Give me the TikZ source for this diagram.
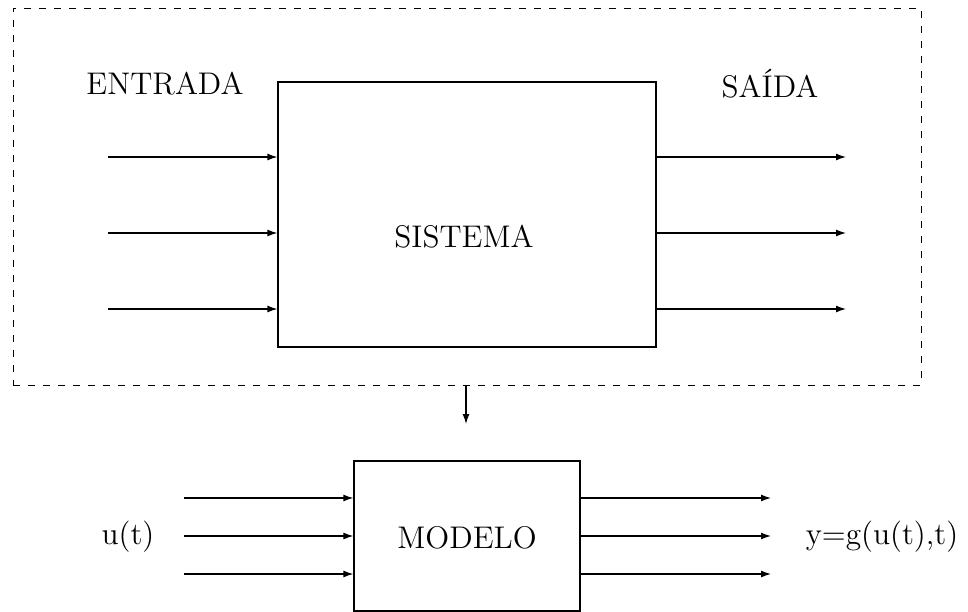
\documentclass[tikz,border=0pt]{standalone}
\usetikzlibrary{arrows.meta,fit}
\begin{document}
\begin{tikzpicture}[x=0.46pt,y=-0.46pt,
  every node/.style={font=\Large},
  arr/.style={line width=0.55pt,-{Latex[length=4.6pt,width=3.2pt]}},
  blk/.style={draw,line width=0.55pt,inner sep=0pt},
  frame/.style={draw,line width=0.45pt,dash pattern=on 3.2pt off 3.7pt,inner sep=0pt}]
\useasboundingbox (0,0) rectangle (968,612);
% outer dashed frame
\node[frame,fit={(13,8) (921,385)}] (fr) {};
% system box
\node[blk,fit={(278,82) (656,347)}] (sis) {};
\node[anchor=center] (sist) at (464,237) {SISTEMA};
\node[anchor=base] (ent) at (165,95) {ENTRADA};
\node[anchor=base] (sai) at (770,98) {SAÍDA};
% inputs/outputs of system
\foreach \i/\yy in {1/157,2/233,3/309}{
  \coordinate (si\i) at (108,\yy);
  \coordinate (so\i) at (846,\yy);
  \draw[arr] (si\i) -- (si\i -| sis.west);
  \draw[arr] (so\i -| sis.east) -- (so\i);
}
% down arrow
\coordinate (dn) at (466,424);
\draw[arr] (fr.south -| dn) -- (dn);
% model box
\node[blk,fit={(354,461) (580,611)}] (mod) {};
\node[anchor=center] (modt) at (467,538) {MODELO};
\node (u) at (128,537) {u(t)};
\node (y) at (882,537) {y=g(u(t),t)};
\foreach \i/\yy in {1/498,2/536,3/574}{
  \coordinate (mi\i) at (184,\yy);
  \coordinate (mo\i) at (771,\yy);
  \draw[arr] (mi\i) -- (mi\i -| mod.west);
  \draw[arr] (mo\i -| mod.east) -- (mo\i);
}
\end{tikzpicture}
\end{document}
